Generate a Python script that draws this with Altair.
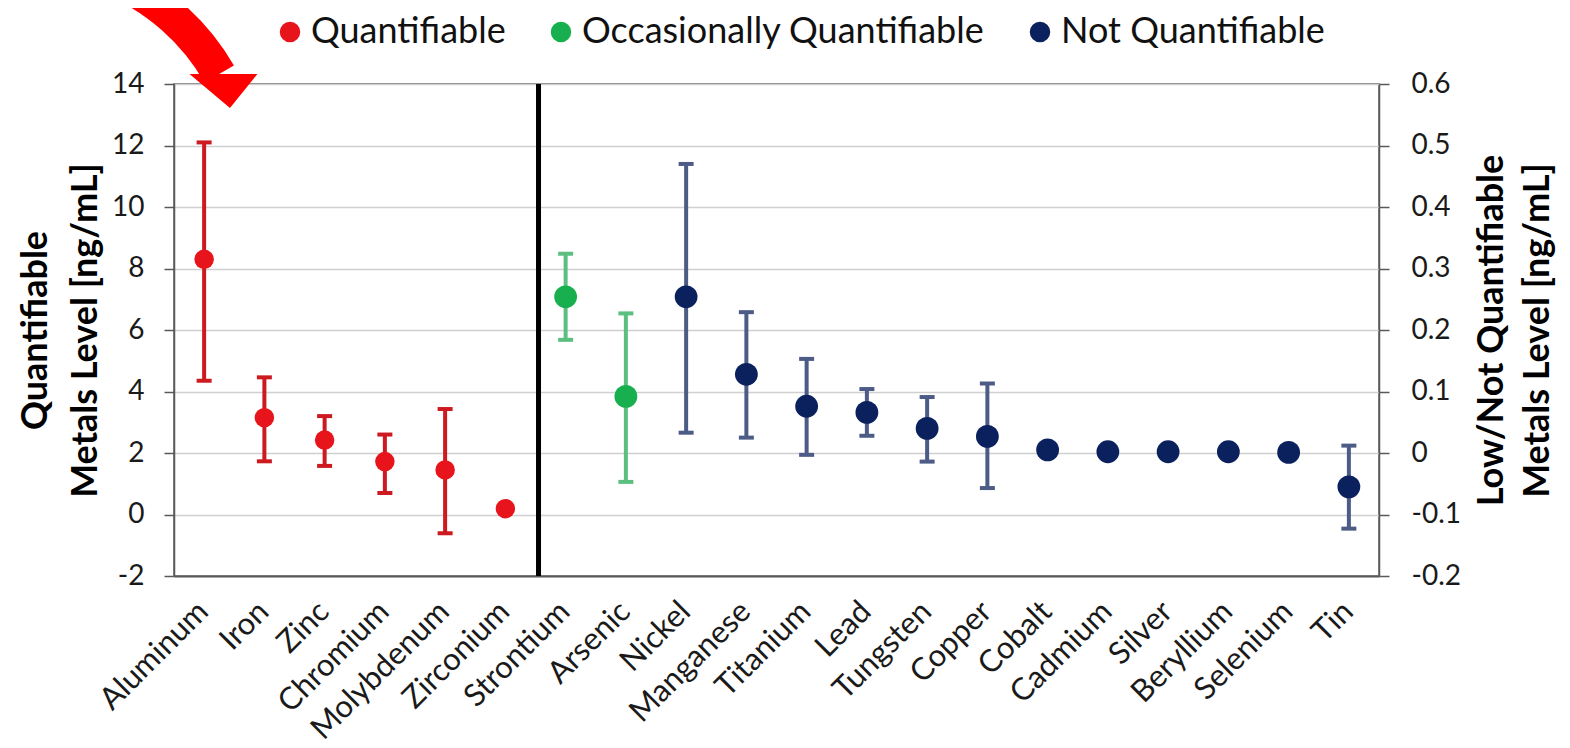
import altair as alt
import pandas as pd

# ---------------- data ----------------
categories = ["Aluminum", "Iron", "Zinc", "Chromium", "Molybdenum", "Zirconium",
              "Strontium", "Arsenic", "Nickel", "Manganese", "Titanium", "Lead",
              "Tungsten", "Copper", "Cobalt", "Cadmium", "Silver", "Beryllium",
              "Selenium", "Tin"]
groups = (["Quantifiable"] * 6 + ["Occasionally Quantifiable"] * 2 +
          ["Not Quantifiable"] * 12)
# left axis (Quantifiable) values in ng/mL, right axis values for the others
values = [8.30, 3.15, 2.42, 1.72, 1.45, 0.19,
          0.254, 0.092, 0.254, 0.128, 0.076, 0.066, 0.040, 0.027,
          0.005, 0.002, 0.002, 0.002, 0.001, -0.055]
lows = [4.35, 1.73, 1.58, 0.70, -0.61, None,
        0.184, -0.047, 0.033, 0.025, -0.003, 0.028, -0.014, -0.057,
        None, None, None, None, None, -0.123]
highs = [12.10, 4.46, 3.20, 2.60, 3.43, None,
         0.324, 0.227, 0.470, 0.229, 0.153, 0.104, 0.091, 0.113,
         None, None, None, None, None, 0.012]

group_names = ["Quantifiable", "Occasionally Quantifiable", "Not Quantifiable"]
point_colors = ["#e8141b", "#18b04f", "#0b215e"]
bar_colors = ["#cc1a20", "#5cbf80", "#4d5c86"]

left_ticks = [-2, 0, 2, 4, 6, 8, 10, 12, 14]
right_ticks = [-0.2, -0.1, 0, 0.1, 0.2, 0.3, 0.4, 0.5, 0.6]
left_title = ["Quantifiable", "Metals Level [ng/mL]"]
right_title = ["Low/Not Quantifiable", "Metals Level [ng/mL]"]

divider_at = ["Strontium"]

df = pd.DataFrame({"metal": categories, "group": groups, "value": values,
                   "low": lows, "high": highs})
left_df = df[df["group"] == "Quantifiable"]
right_df = df[df["group"] != "Quantifiable"]

FONT = "Lato"

x_scale = alt.Scale(domain=categories, paddingInner=0, paddingOuter=0)
x_axis = alt.Axis(labelAngle=-45, labelAlign="right", labelBaseline="alphabetic",
                  labelFontSize=31, labelPadding=37, labelOffset=6, ticks=False,
                  tickSize=0, labelOverlap=False, labelColor="#1a1a1a",
                  labelLimit=400, domainColor="#595959", domainWidth=2)

color_scale = alt.Scale(domain=group_names, range=point_colors)
legend = alt.Legend(orient="none", direction="horizontal",
                    legendX=98, legendY=-70,
                    symbolType="circle", symbolSize=420,
                    symbolOpacity=1, symbolStrokeWidth=0,
                    labelFontSize=36, labelFont=FONT,
                    labelColor="#111", labelOffset=3,
                    columnPadding=37, labelLimit=600)

# error-bar colour chosen per group (value condition, no extra scale/legend)
bar_color = (alt.when(alt.datum.group == group_names[0]).then(alt.value(bar_colors[0]))
             .when(alt.datum.group == group_names[1]).then(alt.value(bar_colors[1]))
             .otherwise(alt.value(bar_colors[2])))


def xe(band=0.5):
    return alt.X("metal:N", scale=x_scale, axis=x_axis, title=None,
                 bandPosition=band)


def side(data, domain, axis, title, point_size):
    scale = alt.Scale(domain=domain, nice=False, zero=False)

    def y(field):
        return alt.Y(field, type="quantitative", scale=scale, axis=axis,
                     title=title)

    base = alt.Chart(data)
    bars = base.mark_rule(strokeWidth=4, opacity=1).encode(
        x=xe(), y=y("low"), y2="high", color=bar_color)
    cap_lo = base.mark_tick(size=15, thickness=4, opacity=1).encode(
        x=xe(), y=y("low"), color=bar_color)
    cap_hi = base.mark_tick(size=15, thickness=4, opacity=1).encode(
        x=xe(), y=y("high"), color=bar_color)
    pts = base.mark_point(filled=True, opacity=1, strokeWidth=0,
                          size=point_size).encode(
        x=xe(), y=y("value"),
        color=alt.Color("group:N", title=None, scale=color_scale, legend=legend),
    )
    return alt.layer(bars, cap_lo, cap_hi, pts)


left_axis = alt.Axis(orient="left", values=left_ticks, grid=True,
                     gridColor="#d0d0d0", gridWidth=1.5,
                     labelExpr="'' + datum.value", titlePadding=7)
right_axis = alt.Axis(orient="right", values=right_ticks, grid=False,
                      labelExpr="'' + round(datum.value * 10) / 10",
                      titleAngle=270, titlePadding=4, titleLineHeight=46,
                      labelPadding=22)

left = side(left_df, [-2, 14], left_axis, left_title, 380)
right = side(right_df, [-0.2, 0.6], right_axis, right_title, 520)

divider = alt.Chart(pd.DataFrame({"metal": divider_at})).mark_rule(
    color="black", strokeWidth=5).encode(x=xe(0.05))

# decorative red pointer arrow (annotation)
one = pd.DataFrame({"k": [0]})
arrow_body = alt.Chart(one).mark_arc(
    theta=0.40, theta2=1.05, radius=242, radius2=208, color="#ff0000"
).encode(x=alt.value(-150), y=alt.value(102))
arrow_head = alt.Chart(one).mark_point(
    shape="M -1 -0.5 L 1 -0.5 L 0.19 0.5 Z", filled=True, size=4624,
    color="#ff0000", opacity=1, strokeWidth=0
).encode(x=alt.value(49.5), y=alt.value(7))

chart = alt.layer(left, right, divider, arrow_body, arrow_head).resolve_scale(
    y="independent"
).properties(
    width=1205, height=492,
    autosize=alt.AutoSizeParams(type="none"),
    padding={"left": 166, "top": 76, "right": 183, "bottom": 170},
    background="white",
).configure_view(
    stroke="#595959", strokeWidth=1.5
).configure_axis(
    labelFont=FONT, titleFont=FONT, labelFontSize=28, labelColor="#1a1a1a",
    titleFontSize=36, titleFontWeight="bold", titleColor="#000",
    domainColor="#595959", domainWidth=1.5, tickColor="#595959",
    tickWidth=1.5, tickSize=10, labelPadding=20, titleLineHeight=50,
)

chart.save("out.html", embed_options={"renderer": "svg", "actions": False})
